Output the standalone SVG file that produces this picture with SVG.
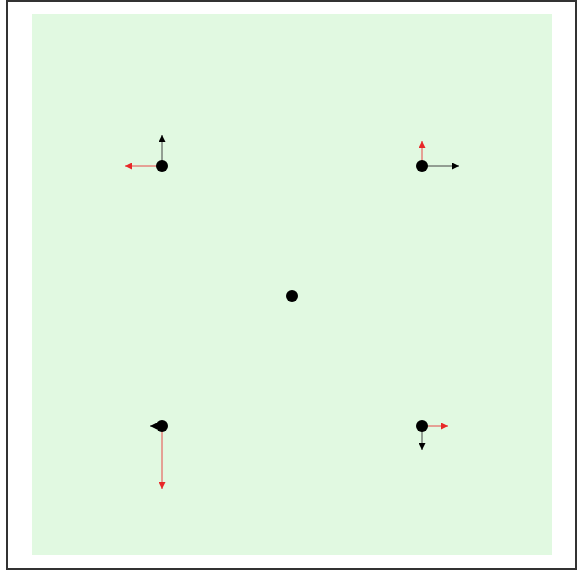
<svg xmlns="http://www.w3.org/2000/svg" width="578" height="571" viewBox="0 0 578 571">
<style>
.frame{fill:#ffffff;stroke:#333333;stroke-width:2}
.bg{fill:#e1f9e1}
.node{fill:#000000}
.blk{stroke:#444444;stroke-width:1;fill:none}
.red{stroke:#e84848;stroke-width:1;fill:none}
</style>
<defs>
<marker id="ab" viewBox="0 0 10 10" refX="10" refY="5" markerUnits="userSpaceOnUse" markerWidth="10" markerHeight="7" orient="auto"><path d="M0,0 L10,5 L0,10 z" fill="#000000"/></marker>
<marker id="ar" viewBox="0 0 10 10" refX="10" refY="5" markerUnits="userSpaceOnUse" markerWidth="10" markerHeight="7" orient="auto"><path d="M0,0 L10,5 L0,10 z" fill="#e82828"/></marker>
</defs>
<rect class="frame" x="7" y="1" width="569" height="568"/>
<rect class="bg" x="32" y="14" width="520" height="541"/>
<g id="connectors">
<line class="blk" x1="162" y1="166" x2="162" y2="135" marker-end="url(#ab)"/>
<line class="red" x1="162" y1="166" x2="125" y2="166" marker-end="url(#ar)"/>
<line class="red" x1="422" y1="166" x2="422" y2="141" marker-end="url(#ar)"/>
<line class="blk" x1="422" y1="166" x2="459" y2="166" marker-end="url(#ab)"/>
<line class="blk" x1="162" y1="426" x2="150" y2="426" marker-end="url(#ab)"/>
<line class="red" x1="162" y1="426" x2="162" y2="489" marker-end="url(#ar)"/>
<line class="red" x1="422" y1="426" x2="448" y2="426" marker-end="url(#ar)"/>
<line class="blk" x1="422" y1="426" x2="422" y2="450" marker-end="url(#ab)"/>
</g>
<g id="n1"><circle class="node" cx="162" cy="166" r="6"/></g>
<g id="n2"><circle class="node" cx="422" cy="166" r="6"/></g>
<g id="n3"><circle class="node" cx="292" cy="296" r="6"/></g>
<g id="n4"><circle class="node" cx="162" cy="426" r="6"/></g>
<g id="n5"><circle class="node" cx="422" cy="426" r="6"/></g>
</svg>
